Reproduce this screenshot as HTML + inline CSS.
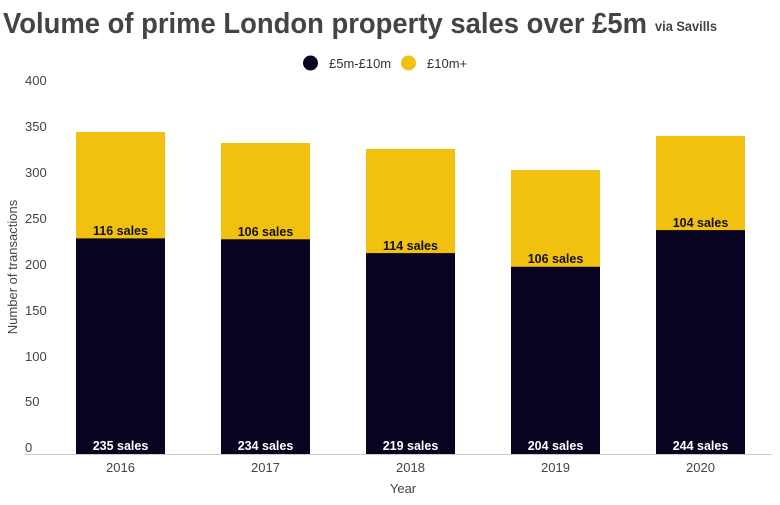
<!DOCTYPE html>
<html><head><style>
body{margin:0;background:#fff;font-family:"Liberation Sans",sans-serif;}
</style></head><body>
<svg width="780" height="500" xmlns="http://www.w3.org/2000/svg" font-family="Liberation Sans, sans-serif">
<text x="3" y="33" font-size="29" font-weight="bold" fill="#444" textLength="644" lengthAdjust="spacingAndGlyphs">Volume of prime London property sales over £5m</text>
<text x="655" y="31" font-size="14" font-weight="bold" fill="#444" textLength="62" lengthAdjust="spacingAndGlyphs">via Savills</text>
<circle cx="310.5" cy="63" r="7.5" fill="#070320"/>
<text x="329" y="68" font-size="13" fill="#333">£5m-£10m</text>
<circle cx="408.5" cy="63" r="7.5" fill="#f2c00f"/>
<text x="427" y="68" font-size="13" fill="#333">£10m+</text>
<g font-size="13" fill="#444">
<text x="25" y="85">400</text><text x="25" y="131">350</text><text x="25" y="177">300</text>
<text x="25" y="223">250</text><text x="25" y="269">200</text><text x="25" y="315">150</text>
<text x="25" y="361">100</text><text x="25" y="406">50</text><text x="25" y="452">0</text>
</g>
<text transform="translate(17,267) rotate(-90)" font-size="13" fill="#444" text-anchor="middle">Number of transactions</text>
<line x1="25" y1="454.5" x2="772" y2="454.5" stroke="#ccc" stroke-width="1"/>
<g>
<rect x="76" y="132" width="89" height="107" fill="#f2c00f"/><rect x="76" y="238.4" width="89" height="215.6" fill="#070320"/>
<rect x="221" y="143" width="89" height="97" fill="#f2c00f"/><rect x="221" y="239.3" width="89" height="214.7" fill="#070320"/>
<rect x="366" y="149" width="89" height="105" fill="#f2c00f"/><rect x="366" y="253.1" width="89" height="200.9" fill="#070320"/>
<rect x="511" y="170" width="89" height="97" fill="#f2c00f"/><rect x="511" y="266.8" width="89" height="187.2" fill="#070320"/>
<rect x="656" y="136" width="89" height="96" fill="#f2c00f"/><rect x="656" y="230.1" width="89" height="223.9" fill="#070320"/>
</g>
<g font-size="12.5" font-weight="bold" text-anchor="middle" fill="#111">
<text x="120.5" y="235">116 sales</text><text x="265.5" y="236">106 sales</text>
<text x="410.5" y="250">114 sales</text><text x="555.5" y="263">106 sales</text><text x="700.5" y="227">104 sales</text>
</g>
<g font-size="12.5" font-weight="bold" text-anchor="middle" fill="#fff">
<text x="120.5" y="450">235 sales</text><text x="265.5" y="450">234 sales</text>
<text x="410.5" y="450">219 sales</text><text x="555.5" y="450">204 sales</text><text x="700.5" y="450">244 sales</text>
</g>
<g font-size="13" text-anchor="middle" fill="#444">
<text x="120.5" y="472">2016</text><text x="265.5" y="472">2017</text><text x="410.5" y="472">2018</text>
<text x="555.5" y="472">2019</text><text x="700.5" y="472">2020</text>
<text x="403" y="493">Year</text>
</g>
</svg>
</body></html>
